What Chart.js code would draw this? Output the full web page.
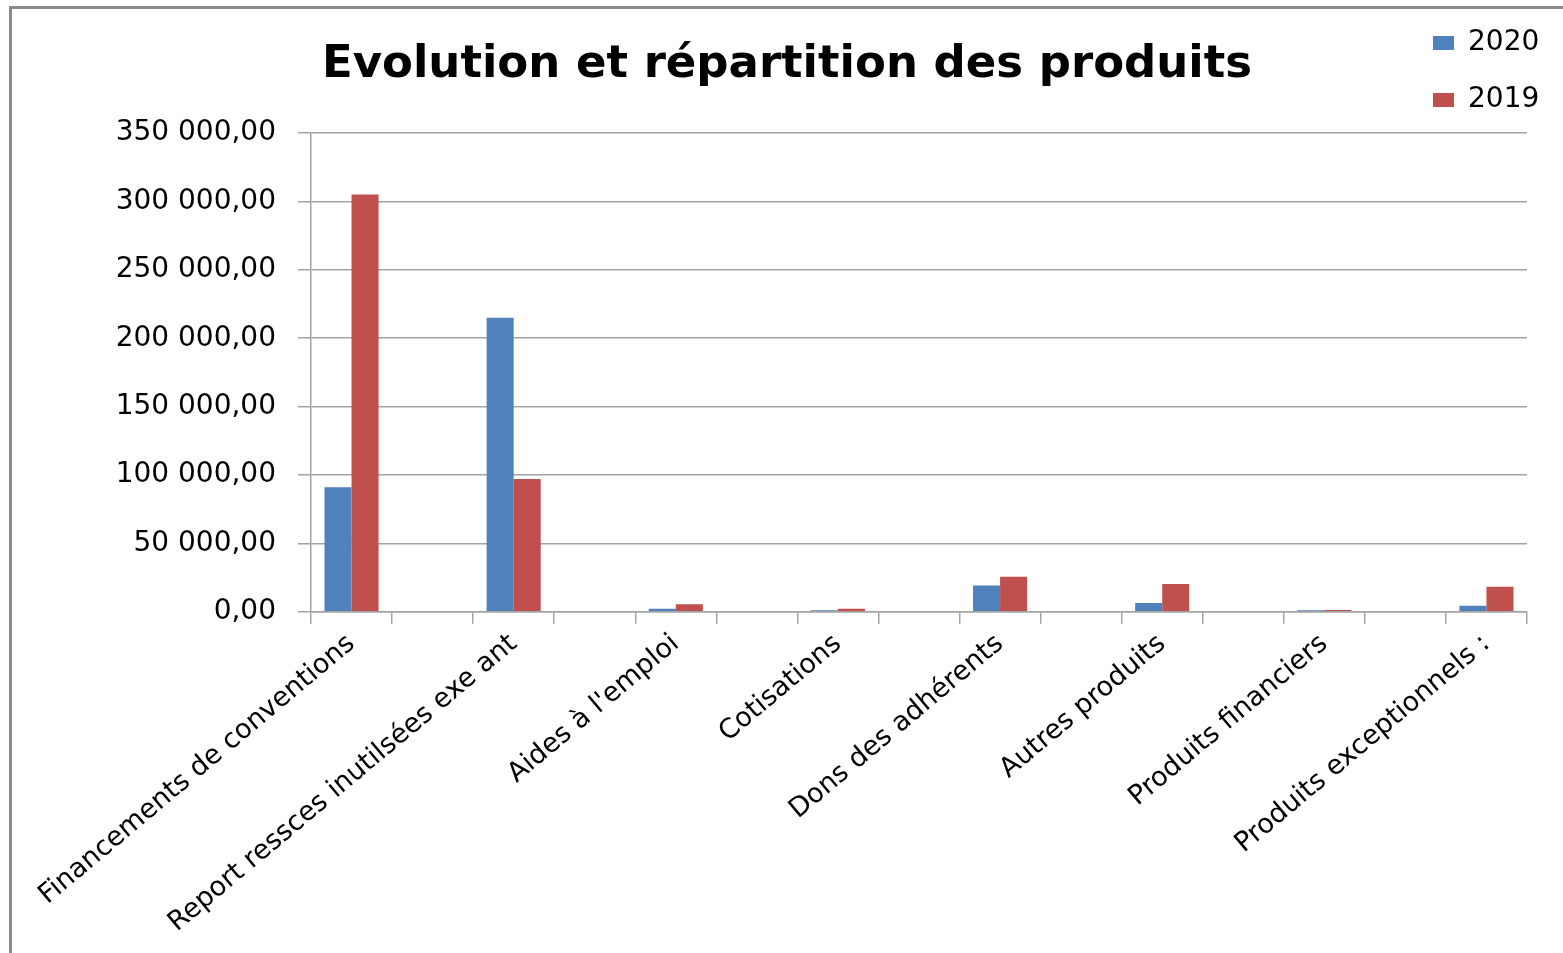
<!DOCTYPE html>
<html>
<head>
<meta charset="utf-8">
<script src="https://cdn.jsdelivr.net/npm/chart.js@4/dist/chart.umd.min.js"></script>
<style>
  html, body { margin: 0; padding: 0; background: #ffffff; overflow: hidden; }
  #wrap { position: absolute; left: 0; top: 0; width: 1563px; height: 953px; }
  #frame { position: absolute; left: 9px; top: 6px; width: 1700px; height: 1100px;
           border: 3px solid #8c8c8c; pointer-events: none; box-sizing: border-box; }
  canvas { position: absolute; left: 0; top: 0; }
</style>
</head>
<body>
<div id="wrap">
  <canvas id="c" width="1563" height="953"></canvas>
  <div id="frame"></div>
</div>
<script>
// ---- data ----
const categories = [
  'Financements de conventions', '',
  'Report ressces inutilsées exe ant', '',
  "Aides à l'emploi", '',
  'Cotisations', '',
  'Dons des adhérents', '',
  'Autres produits', '',
  'Produits financiers', '',
  'Produits exceptionnels :'
];
const values2020 = [91000, null, 215000, null, 2200, null, 1200, null, 19300, null, 6400, null, 1200, null, 4400];
const values2019 = [305000, null, 97200, null, 5600, null, 2200, null, 25600, null, 20300, null, 1400, null, 18300];
const seriesNames = ['2020', '2019'];
const yTicks = [0, 50000, 100000, 150000, 200000, 250000, 300000, 350000];
const titleText = 'Evolution et répartition des produits';

function fmt(v) {
  const s = Math.abs(v).toFixed(2).split('.');
  const intPart = s[0].replace(/\B(?=(\d{3})+(?!\d))/g, ' ');
  return (v < 0 ? '-' : '') + intPart + ',' + s[1];
}

const gridColor = '#a3a3a3';
const legendPlacer = {
  id: 'legendPlacer',
  afterLayout(chart) {
    const lg = chart.legend;
    if (!lg) return;
    const L = 1404, T = 0, W = 150, H = 400;
    lg.left = L; lg.top = T; lg.right = L + W; lg.bottom = T + H;
    lg.width = W; lg.height = H;
  }
};

new Chart(document.getElementById('c'), {
  type: 'bar',
  data: {
    labels: categories,
    datasets: [
      { label: seriesNames[0], data: values2020, backgroundColor: '#4F81BD', borderWidth: 0 },
      { label: seriesNames[1], data: values2019, backgroundColor: '#C0504D', borderWidth: 0 }
    ]
  },
  options: {
    responsive: false,
    animation: false,
    devicePixelRatio: 1,
    layout: { padding: { left: 47, right: 36, top: 0, bottom: 10 } },
    datasets: { bar: { categoryPercentage: 0.667, barPercentage: 1.0 } },
    plugins: {
      title: {
        display: true,
        text: titleText,
        color: '#000000',
        font: { family: 'DejaVu Sans', size: 45, weight: 'bold' },
        padding: { top: 38, bottom: 41 }
      },
      legend: {
        display: true,
        position: 'chartArea',
        align: 'start',
        labels: {
          color: '#000000',
          font: { family: 'DejaVu Sans', size: 28 },
          boxWidth: 21,
          boxHeight: 14,
          padding: 29
        }
      },
      tooltip: { enabled: false }
    },
    scales: {
      x: {
        offset: true,
        grid: { display: true, drawOnChartArea: false, drawTicks: true, tickLength: 12, offset: true, color: gridColor, lineWidth: 1.5 },
        border: { display: true, color: gridColor, width: 1.5 },
        ticks: {
          autoSkip: false,
          minRotation: 40,
          maxRotation: 40,
          padding: 4,
          color: '#000000',
          font: { family: 'DejaVu Sans', size: 27 }
        }
      },
      y: {
        min: 0,
        max: 350000,
        afterBuildTicks(scale) { scale.ticks = yTicks.map(v => ({ value: v })); },
        afterFit(scale) { scale.width = 264; },
        grid: { color: gridColor, lineWidth: 1.5, drawTicks: true, tickLength: 13 },
        border: { display: true, color: gridColor, width: 1.5 },
        ticks: {
          padding: 22,
          color: '#000000',
          font: { family: 'DejaVu Sans', size: 28 },
          callback: (v) => fmt(v)
        }
      }
    }
  },
  plugins: [legendPlacer]
});
</script>
</body>
</html>
